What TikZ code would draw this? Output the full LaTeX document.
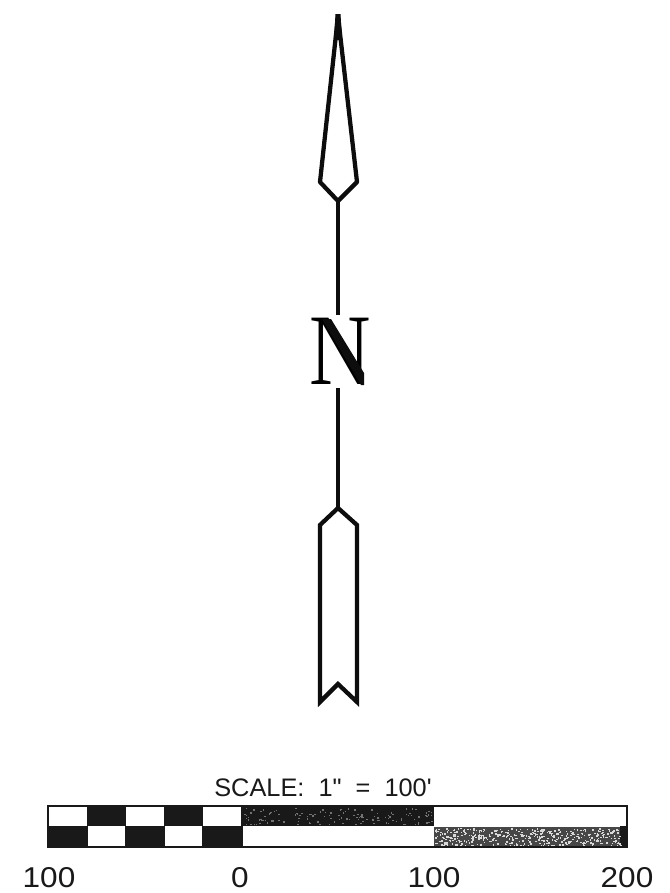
\documentclass[tikz,border=0pt]{standalone}
\usepackage{fontspec}
\newfontfamily\lblfont{Liberation Sans}
\newfontfamily\nfont{Liberation Serif}
\begin{document}
\begin{tikzpicture}[x=0.75pt,y=-0.75pt,
  arrowline/.style={line width=3.2pt,black!95,line join=miter,miter limit=4},
  shaft/.style={line width=2.6pt,black!95},
  darkcell/.style={fill=black!90,draw=none},
  graycell/.style={fill=black!72,draw=none},
  barframe/.style={draw=black!90,line width=1.5pt},
  numlabel/.style={font=\lblfont\fontsize{21.5}{24}\selectfont,text=black!90,inner sep=0pt,xscale=1.1},
  titlelabel/.style={font=\lblfont\fontsize{19}{20}\selectfont,text=black!90,inner sep=0pt}]
\useasboundingbox (0,0) rectangle (670,893);
\fill[white] (0,0) rectangle (670,893);
% arrow head
\coordinate (tip) at (338,16);
\coordinate (hl) at (320,182);
\coordinate (hr) at (357,182);
\coordinate (hb) at (338,201);
\draw[arrowline,line join=round] (hb) -- (hl) -- (tip) -- (hr) -- cycle;
\fill[black!95] (335.5,14) -- (340.5,14) -- (342,40) -- (334,40) -- cycle;
% N
\node[inner sep=0pt,xscale=0.84] (north) at (340.5,351.5) {\nfont\fontsize{76}{80}\selectfont N};
\fill[black!95] (322,319) -- (331,319) -- (364,373) -- (364,385) -- (361,385) -- cycle;
\coordinate (s1) at (338,315);
\coordinate (s2) at (338,388);
\draw[shaft] (hb) -- (s1);
\draw[shaft] (s2) -- (338,510);
% tail
\coordinate (tt) at (338,508);
\coordinate (tl) at (320,525);
\coordinate (tr) at (357,525);
\coordinate (bl) at (320,702);
\coordinate (br) at (357,702);
\coordinate (nt) at (338,684);
\draw[arrowline] (tt) -- (tl) -- (bl) -- (nt) -- (br) -- (tr) -- cycle;
% scale bar
\node[titlelabel] (title) at (323,788) {SCALE:\ \ 1"\ \ =\ \ 100'};
\fill[darkcell] (87,806) rectangle (126,826);
\fill[darkcell] (164,806) rectangle (203,826);
\fill[darkcell] (241,806) rectangle (434,826);
\fill[darkcell] (48,826) rectangle (88,847);
\fill[darkcell] (125,826) rectangle (165,847);
\fill[darkcell] (202,826) rectangle (243,847);
\fill[graycell] (434,827) rectangle (620,847);
\fill[darkcell] (620,826) rectangle (627,847);
% stipple
\pgfmathsetseed{42}
\foreach \i in {1,...,420}{
  \pgfmathsetmacro{\px}{434+186*rnd}
  \pgfmathsetmacro{\py}{828+18*rnd}
  \fill[white!85!black] (\px,\py) rectangle +(1.6,1.4);
}
\foreach \i in {1,...,130}{
  \pgfmathsetmacro{\px}{243+188*rnd}
  \pgfmathsetmacro{\py}{808+16*rnd}
  \fill[black!55] (\px,\py) rectangle +(1.5,1.3);
}
\draw[barframe] (48,806) rectangle (627,847);
% labels
\node[numlabel] (l1) at (49,878) {100};
\node[numlabel] (l2) at (240,878) {0};
\node[numlabel] (l3) at (434,878) {100};
\node[numlabel] (l4) at (627,878) {200};
\end{tikzpicture}
\end{document}
